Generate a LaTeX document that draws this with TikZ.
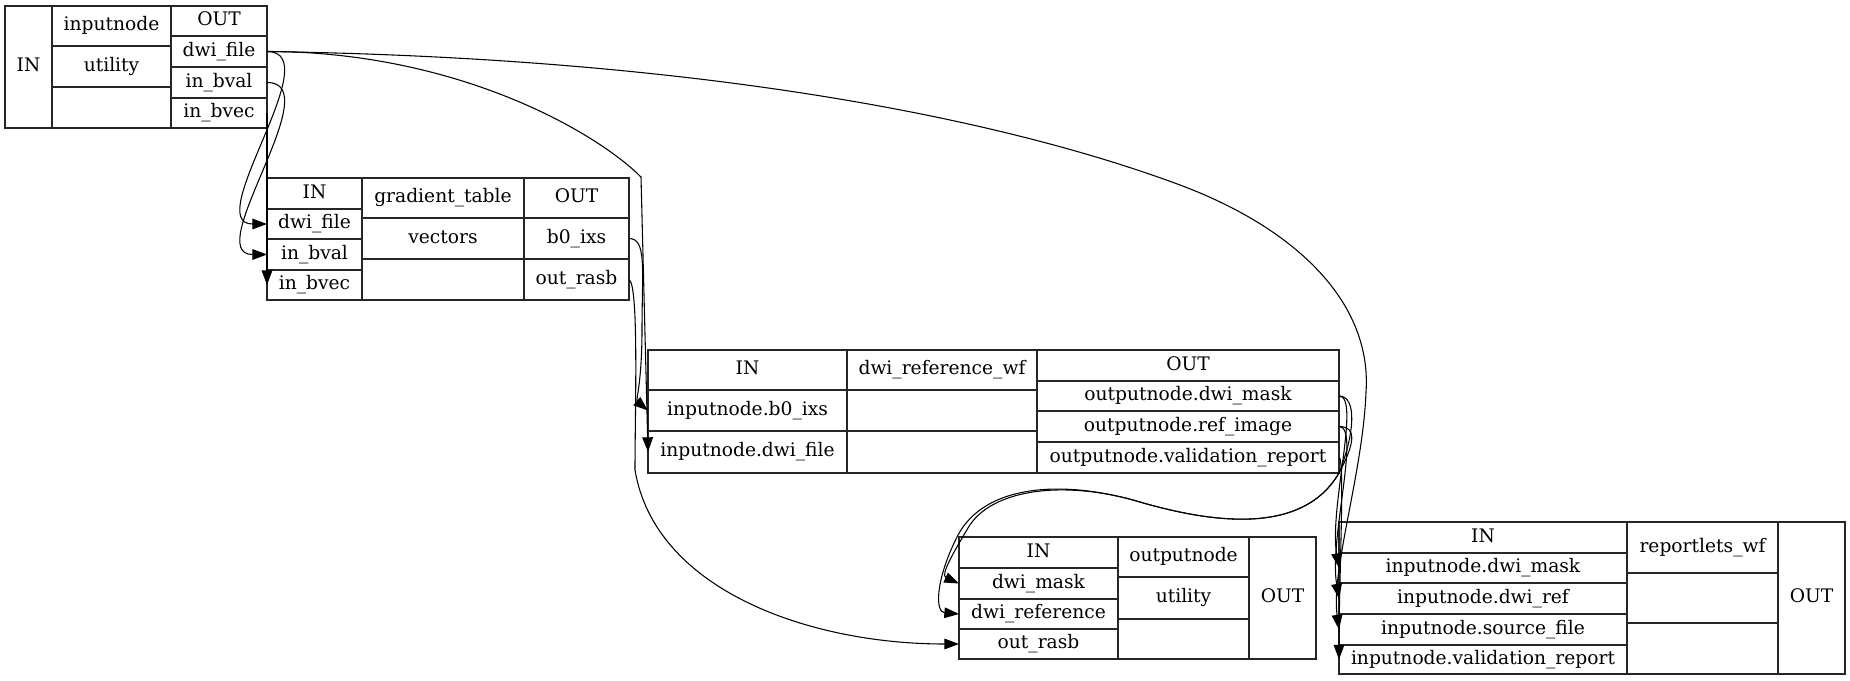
\documentclass[tikz,border=0pt]{standalone}
\usepackage{fontspec}
\setmainfont{DejaVu Serif}
\usepackage{tikz}
\usetikzlibrary{arrows}
\usetikzlibrary{arrows.meta}

% one field of a record: name, x1, y1, x2, y2, text
\newcommand{\recField}[6]{\node[fieldNode, minimum width={(#4-#2)*0.75pt}, minimum height={(#5-#3)*0.75pt}] (#1) at ({(#2+#4)/2},{(#3+#5)/2}) {#6};}

\begin{document}
\begin{tikzpicture}[x=0.75pt, y=-0.75pt,
        fieldNode/.style = {draw=black!85, line width=1pt, inner sep=0pt, outer sep=0pt, font=\fontsize{14}{16}\selectfont, text height=10pt, text depth=3pt},
        edgeLine/.style = {draw=black, line width=0.8pt, -{Triangle[length=11pt,width=8pt]}}
        ]
        \useasboundingbox (0,0) rectangle (1850,681);
        % inputnode
        \recField{ain}{5}{6}{52}{128}{IN}
        \recField{aname}{52}{6}{171}{46}{inputnode}
        \recField{atype}{52}{46}{171}{87}{utility}
        \recField{aempty}{52}{87}{171}{128}{}
        \recField{aout}{171}{6}{267}{36}{OUT}
        \recField{adwi}{171}{36}{267}{67}{dwi\_file}
        \recField{abval}{171}{67}{267}{98}{in\_bval}
        \recField{abvec}{171}{98}{267}{128}{in\_bvec}
        % gradient_table
        \recField{bin}{267}{178}{362}{209}{IN}
        \recField{bdwi}{267}{209}{362}{239}{dwi\_file}
        \recField{bbval}{267}{239}{362}{270}{in\_bval}
        \recField{bbvec}{267}{270}{362}{300}{in\_bvec}
        \recField{bname}{362}{178}{524}{218}{gradient\_table}
        \recField{btype}{362}{218}{524}{259}{vectors}
        \recField{bempty}{362}{259}{524}{300}{}
        \recField{bout}{524}{178}{629}{218}{OUT}
        \recField{bbzero}{524}{218}{629}{259}{b0\_ixs}
        \recField{brasb}{524}{259}{629}{300}{out\_rasb}
        % dwi_reference_wf
        \recField{cin}{648}{350}{847}{390}{IN}
        \recField{cbzero}{648}{390}{847}{431}{inputnode.b0\_ixs}
        \recField{cdwi}{648}{431}{847}{473}{inputnode.dwi\_file}
        \recField{cname}{847}{350}{1037}{390}{dwi\_reference\_wf}
        \recField{cemptya}{847}{390}{1037}{431}{}
        \recField{cemptyb}{847}{431}{1037}{473}{}
        \recField{cout}{1037}{350}{1339}{381}{OUT}
        \recField{cmask}{1037}{381}{1339}{411}{outputnode.dwi\_mask}
        \recField{cref}{1037}{411}{1339}{442}{outputnode.ref\_image}
        \recField{cval}{1037}{442}{1339}{473}{outputnode.validation\_report}
        % outputnode
        \recField{din}{959}{537}{1118}{568}{IN}
        \recField{dmask}{959}{568}{1118}{599}{dwi\_mask}
        \recField{dref}{959}{599}{1118}{629}{dwi\_reference}
        \recField{drasb}{959}{629}{1118}{659}{out\_rasb}
        \recField{dname}{1118}{537}{1249}{577}{outputnode}
        \recField{dtype}{1118}{577}{1249}{619}{utility}
        \recField{dempty}{1118}{619}{1249}{659}{}
        \recField{dout}{1249}{537}{1316}{659}{OUT}
        % reportlets_wf
        \recField{ein}{1339}{522}{1627}{553}{IN}
        \recField{emask}{1339}{553}{1627}{583}{inputnode.dwi\_mask}
        \recField{eref}{1339}{583}{1627}{614}{inputnode.dwi\_ref}
        \recField{esrc}{1339}{614}{1627}{645}{inputnode.source\_file}
        \recField{evalid}{1339}{645}{1627}{674}{inputnode.validation\_report}
        \recField{ename}{1627}{522}{1778}{573}{reportlets\_wf}
        \recField{eemptya}{1627}{573}{1778}{623}{}
        \recField{eemptyb}{1627}{623}{1778}{674}{}
        \recField{eout}{1778}{522}{1845}{674}{OUT}

        % inputnode -> gradient_table
        \draw[edgeLine] (adwi.east) .. controls +(63,0) and +(-67,0) .. (bdwi.west);
        \draw[edgeLine] (abval.east) .. controls +(63,0) and +(-67,0) .. (bbval.west);
        \draw[edgeLine] (abvec.east) -- (bbvec.west);
        % inputnode -> dwi_reference_wf, reportlets_wf
        \draw[edgeLine] (adwi.east) .. controls +(190,0) and +(-45,-45) .. (641,177) -- (cdwi.west);
        \draw[edgeLine] (adwi.east) .. controls (700,58) and (1000,118) .. (1180,185) .. controls (1300,230) and (1372,305) .. (1366,392) .. controls +(-3,80) and +(-8,-60) .. (esrc.west);
        % gradient_table -> dwi_reference_wf, outputnode
        \draw[edgeLine] (bbzero.east) .. controls +(18,0) and +(0,-60) .. (642,330) .. controls +(0,50) and +(-12,-10) .. (cbzero.west);
        \draw[edgeLine] (brasb.east) .. controls +(10,5) and +(0,-60) .. (635,470) .. controls +(20,120) and +(-150,0) .. (drasb.west);
        % dwi_reference_wf -> outputnode
        \draw[edgeLine] (cmask.east) .. controls +(18,0) and +(16,-40) .. (1339,473) .. controls (1300,540) and (1200,520) .. (1133,500) .. controls (1060,480) and (990,490) .. (968,528) .. controls (955,550) and (940,575) .. (dmask.west);
        \draw[edgeLine] (cref.east) .. controls +(18,0) and +(16,-30) .. (1339,473) .. controls (1300,540) and (1200,520) .. (1133,500) .. controls (1060,480) and (985,485) .. (958,535) .. controls (935,580) and (935,612) .. (dref.west);
        % dwi_reference_wf -> reportlets_wf
        \draw[edgeLine] (cmask.east) .. controls +(22,0) and +(-10,-60) .. (emask.west);
        \draw[edgeLine] (cref.east) .. controls +(22,0) and +(-10,-60) .. (eref.west);
        \draw[edgeLine] (cval.east) .. controls +(6,0) and +(0,-80) .. (evalid.west);
    \end{tikzpicture}
\end{document}
